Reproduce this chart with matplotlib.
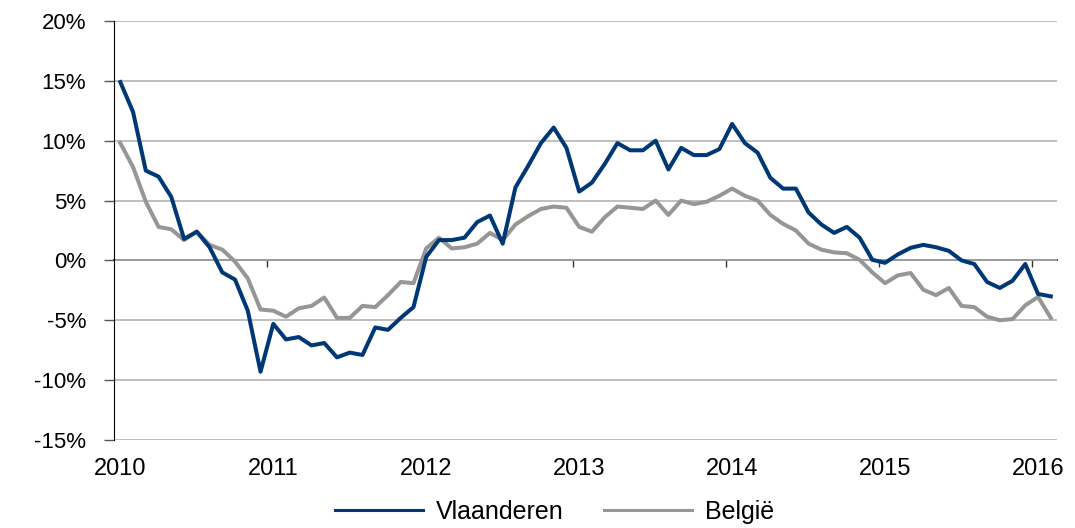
import numpy as np
import matplotlib
matplotlib.use('Agg')
import matplotlib.pyplot as plt
from matplotlib.ticker import FuncFormatter

plt.rcParams['font.family'] = ['Liberation Sans', 'DejaVu Sans']

# Monthly growth, Jan 2010 .. Feb 2016 (in %)
vlaanderen = [
    14.9, 12.4, 7.5, 7.0, 5.3, 1.8, 2.4, 1.1, -1.0, -1.6, -4.2, -9.3,
    -5.3, -6.6, -6.4, -7.1, -6.9, -8.1, -7.7, -7.9, -5.6, -5.8, -4.8, -3.9,
    0.3, 1.7, 1.7, 1.9, 3.2, 3.75, 1.4, 6.1, 7.9, 9.8, 11.1, 9.4,
    5.75, 6.5, 8.05, 9.8, 9.2, 9.2, 10.0, 7.6, 9.4, 8.8, 8.8, 9.3,
    11.4, 9.8, 9.0, 6.9, 6.0, 6.0, 4.0, 3.0, 2.3, 2.8, 1.9, 0.05,
    -0.2, 0.5, 1.05, 1.3, 1.1, 0.8, 0.0, -0.3, -1.8, -2.3, -1.7, -0.3,
    -2.8, -3.0,
]
belgie = [
    9.8, 7.8, 4.9, 2.8, 2.6, 1.7, 2.4, 1.3, 0.9, -0.1, -1.5, -4.1,
    -4.2, -4.7, -4.0, -3.8, -3.1, -4.8, -4.8, -3.8, -3.9, -2.9, -1.8, -1.9,
    1.0, 1.9, 1.0, 1.1, 1.4, 2.3, 1.7, 3.0, 3.7, 4.3, 4.5, 4.4,
    2.8, 2.4, 3.6, 4.5, 4.4, 4.3, 5.0, 3.8, 5.0, 4.7, 4.9, 5.4,
    6.0, 5.4, 5.0, 3.8, 3.05, 2.5, 1.4, 0.9, 0.67, 0.6, 0.05, -1.0,
    -1.9, -1.25, -1.05, -2.45, -2.9, -2.3, -3.8, -3.9, -4.7, -5.0, -4.9, -3.75,
    -3.05, -4.8,
]
years = ['2010', '2011', '2012', '2013', '2014', '2015', '2016']

BLUE = '#003876'
GREY = '#969696'

months = np.arange(len(vlaanderen))

fig = plt.figure(figsize=(10.75, 5.28), dpi=100)
ax = fig.add_axes([0.106, 0.1667, 0.8774, 0.7935])

ax.plot(months, vlaanderen, color=BLUE, lw=2.9, label='Vlaanderen', zorder=3)
ax.plot(months, belgie, color=GREY, lw=2.9, label='België', zorder=2)

ax.set_xlim(-0.5, len(months) - 0.5)
ax.set_ylim(-15, 20)
ax.set_yticks(np.arange(-15, 21, 5))
ax.yaxis.set_major_formatter(FuncFormatter(lambda v, p: f'{v:.0f}%'))
ax.grid(axis='y', color='#b4b4b4', lw=1.2)
ax.set_axisbelow(True)

# year labels under the plot, no tick marks there
ax.set_xticks(np.arange(0, 12 * len(years), 12))
ax.set_xticklabels(years)
ax.tick_params(axis='x', length=0, pad=13, labelsize=17)
ax.tick_params(axis='y', length=7, width=1, color='#555555', pad=13, labelsize=16)

for side in ['top', 'right', 'bottom']:
    ax.spines[side].set_visible(False)
ax.spines['left'].set_color('black')

# zero line with year boundary ticks
zero = ax.secondary_xaxis(15 / 35)
zero.set_xticks(np.arange(11.5, len(months), 12), labels=[])
zero.tick_params(length=5, width=1, color='#333333', direction='out')
zero.spines['bottom'].set_color('black')
zero.spines['bottom'].set_linewidth(1.2)

fig.legend(loc='lower center', bbox_to_anchor=(0.516, -0.035), ncol=2, frameon=False,
           fontsize=18, handlelength=3.5, handletextpad=0.55, columnspacing=1.6)
leg = fig.legends[0]
for line in leg.get_lines():
    line.set_linewidth(2.2)

fig.savefig('out.png', dpi=100)
